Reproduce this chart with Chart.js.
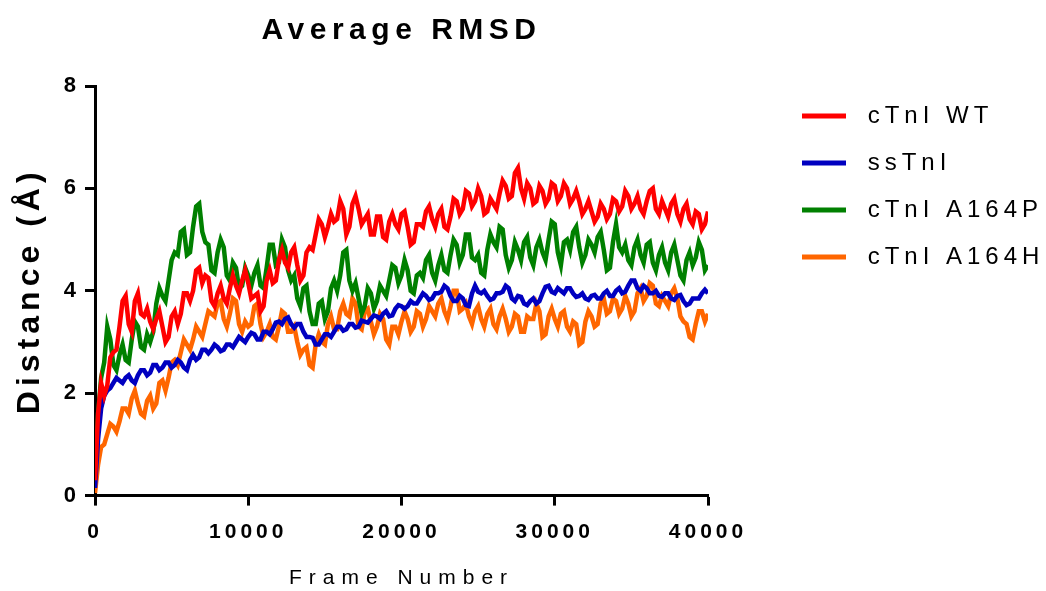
<!DOCTYPE html>
<html>
<head>
<meta charset="utf-8">
<script src="https://cdn.jsdelivr.net/npm/chart.js@4/dist/chart.umd.min.js"></script>
<style>
  html, body { margin: 0; padding: 0; background: #fff; }
  canvas { display: block; }
</style>
</head>
<body>
<canvas id="rmsdChart" width="1046" height="591"></canvas>
<script>
// --- data (frame number vs. average RMSD in Å) ---
const frames = [
    0, 200, 400, 600, 800, 1000, 1200, 1400, 1600, 1800,
    2000, 2200, 2400, 2600, 2800, 3000, 3200, 3400, 3600, 3800,
    4000, 4200, 4400, 4600, 4800, 5000, 5200, 5400, 5600, 5800,
    6000, 6200, 6400, 6600, 6800, 7000, 7200, 7400, 7600, 7800,
    8000, 8200, 8400, 8600, 8800, 9000, 9200, 9400, 9600, 9800,
    10000, 10200, 10400, 10600, 10800, 11000, 11200, 11400, 11600, 11800,
    12000, 12200, 12400, 12600, 12800, 13000, 13200, 13400, 13600, 13800,
    14000, 14200, 14400, 14600, 14800, 15000, 15200, 15400, 15600, 15800,
    16000, 16200, 16400, 16600, 16800, 17000, 17200, 17400, 17600, 17800,
    18000, 18200, 18400, 18600, 18800, 19000, 19200, 19400, 19600, 19800,
    20000, 20200, 20400, 20600, 20800, 21000, 21200, 21400, 21600, 21800,
    22000, 22200, 22400, 22600, 22800, 23000, 23200, 23400, 23600, 23800,
    24000, 24200, 24400, 24600, 24800, 25000, 25200, 25400, 25600, 25800,
    26000, 26200, 26400, 26600, 26800, 27000, 27200, 27400, 27600, 27800,
    28000, 28200, 28400, 28600, 28800, 29000, 29200, 29400, 29600, 29800,
    30000, 30200, 30400, 30600, 30800, 31000, 31200, 31400, 31600, 31800,
    32000, 32200, 32400, 32600, 32800, 33000, 33200, 33400, 33600, 33800,
    34000, 34200, 34400, 34600, 34800, 35000, 35200, 35400, 35600, 35800,
    36000, 36200, 36400, 36600, 36800, 37000, 37200, 37400, 37600, 37800,
    38000, 38200, 38400, 38600, 38800, 39000, 39200, 39400, 39600, 39800,
    40000
];

const seriesLabels = ['cTnI WT', 'ssTnI', 'cTnI A164P', 'cTnI A164H'];

const wtValues = [
    0.3, 1.6, 2.2, 1.95, 2.15, 2.7, 2.8, 2.85, 3.3, 3.8,
    3.9, 3.35, 3.2, 3.8, 3.95, 3.55, 3.5, 3.65, 3.4, 3.25,
    3.45, 3.6, 3.3, 3.0, 3.1, 3.5, 3.6, 3.35, 3.55, 3.95,
    3.95, 3.8, 4.0, 4.4, 4.45, 4.15, 4.3, 4.25, 3.8, 3.7,
    3.95, 4.1, 3.85, 3.75, 4.05, 4.3, 4.1, 3.95, 4.2, 4.4,
    4.15, 3.85, 3.9, 3.95, 3.6, 3.7, 4.2, 4.4, 4.15, 4.2,
    4.6, 4.8, 4.55, 4.45, 4.75, 4.85, 4.5, 4.2, 4.3, 4.75,
    4.85, 4.8, 5.1, 5.4, 5.3, 5.05, 5.25, 5.5, 5.35, 5.4,
    5.75, 5.6, 5.1, 5.25, 5.7, 5.85, 5.6, 5.3, 5.4, 5.5,
    5.1, 5.1, 5.45, 5.45, 5.05, 5.0, 5.35, 5.5, 5.3, 5.2,
    5.5, 5.55, 5.25, 4.9, 4.95, 5.3, 5.3, 5.25, 5.55, 5.65,
    5.4, 5.25, 5.5, 5.6, 5.25, 5.2, 5.45, 5.8, 5.75, 5.5,
    5.6, 5.95, 5.9, 5.65, 5.75, 6.0, 5.85, 5.5, 5.55, 5.8,
    5.7, 5.6, 5.9, 6.15, 6.05, 5.8, 5.85, 6.3, 6.4, 6.0,
    5.8, 6.1, 6.0, 5.7, 5.75, 6.05, 5.95, 5.7, 5.8, 6.1,
    6.05, 5.75, 5.85, 6.1, 6.0, 5.7, 5.8, 5.95, 5.75, 5.5,
    5.6, 5.75, 5.55, 5.35, 5.45, 5.7, 5.6, 5.4, 5.5, 5.8,
    5.75, 5.55, 5.65, 5.95, 5.85, 5.6, 5.7, 5.85, 5.6, 5.5,
    5.75, 5.95, 6.0, 5.6, 5.5, 5.75, 5.6, 5.45, 5.7, 5.8,
    5.5, 5.35, 5.6, 5.7, 5.4, 5.3, 5.55, 5.5, 5.2, 5.3,
    5.55
];

const ssValues = [
    0.15, 1.1, 1.7, 1.95, 2.05, 2.1, 2.2, 2.3, 2.25, 2.2,
    2.3, 2.35, 2.25, 2.2, 2.35, 2.45, 2.45, 2.35, 2.4, 2.55,
    2.55, 2.45, 2.5, 2.6, 2.6, 2.5, 2.55, 2.65, 2.6, 2.5,
    2.45, 2.65, 2.75, 2.65, 2.7, 2.85, 2.85, 2.78, 2.85, 2.95,
    2.9, 2.82, 2.85, 2.95, 2.95, 2.9, 3.0, 3.1, 3.05, 3.0,
    3.1, 3.18, 3.15, 3.05, 3.05, 3.2, 3.2, 3.15, 3.25, 3.38,
    3.4, 3.35, 3.45, 3.48, 3.35, 3.28, 3.35, 3.35, 3.2, 3.1,
    3.1, 3.08, 2.95, 2.95, 3.05, 3.15, 3.15, 3.1, 3.2, 3.3,
    3.3, 3.22, 3.25, 3.35, 3.35, 3.28, 3.3, 3.42, 3.4, 3.38,
    3.45, 3.52, 3.5, 3.45, 3.55, 3.6, 3.5, 3.52, 3.65, 3.72,
    3.7, 3.65, 3.7, 3.8, 3.75, 3.75, 3.85, 3.95, 3.9, 3.82,
    3.85, 3.95, 3.95, 3.98, 4.1, 4.05, 3.9, 3.8, 3.8, 3.9,
    3.85, 3.72, 3.7, 3.95, 4.1, 3.98, 3.95, 4.0, 3.9, 3.82,
    3.85, 3.95, 3.95, 3.98, 4.1, 4.05, 3.85, 3.8, 3.9, 3.88,
    3.75, 3.72, 3.8, 3.85, 3.75, 3.8, 3.95, 4.08, 4.1, 3.98,
    3.95, 4.05, 4.0, 3.95, 4.05, 4.05, 3.95, 3.88, 3.9, 3.95,
    3.85, 3.82, 3.9, 3.92, 3.85, 3.85, 3.95, 4.0, 3.9, 3.9,
    4.0, 4.05, 3.95, 3.98, 4.1, 4.2, 4.2, 4.05, 4.0, 4.1,
    4.05, 3.95, 3.95, 4.0, 3.9, 3.88, 3.95, 3.95, 3.85, 3.82,
    3.9, 3.92, 3.8, 3.72, 3.75, 3.85, 3.85, 3.85, 3.95, 4.02,
    3.95
];

const a164pValues = [
    0.5, 1.6, 2.3, 2.6, 3.3, 3.05, 2.55, 2.45, 2.75, 2.95,
    2.65, 2.6, 3.05, 3.4, 3.3, 2.9, 2.85, 3.15, 3.0, 3.2,
    3.75, 4.05, 3.9, 3.8, 4.2, 4.6, 4.75, 4.7, 5.15, 5.2,
    4.7, 4.75, 5.25, 5.65, 5.7, 5.15, 4.95, 4.9, 4.4, 4.35,
    4.75, 5.0, 4.85, 4.3, 4.2, 4.55, 4.45, 4.05, 4.1, 4.45,
    4.3, 4.1, 4.35, 4.5, 4.1, 4.05, 4.45, 4.9, 4.9, 4.5,
    4.55, 5.0, 4.85, 4.4, 4.2, 4.3, 3.85, 3.7, 4.05, 4.1,
    3.6, 3.35, 3.35, 3.75, 3.8, 3.45, 3.6, 4.05, 4.2, 4.0,
    4.3, 4.75, 4.8, 4.2, 4.0, 4.15, 3.85, 3.55, 3.7, 4.05,
    3.95, 3.65, 3.8, 4.1, 4.0, 3.9, 4.2, 4.5, 4.45, 4.15,
    4.3, 4.6, 4.4, 4.0, 3.95, 4.3, 4.35, 4.25, 4.6, 4.7,
    4.35, 4.2, 4.5, 4.7, 4.4, 4.35, 4.7, 5.0, 4.9, 4.55,
    4.7, 5.1, 5.1, 4.65, 4.6, 4.7, 4.35, 4.3, 4.8, 5.1,
    4.95, 4.85, 5.25, 5.2, 4.7, 4.45, 4.6, 4.95, 4.8, 4.6,
    4.95, 5.05, 4.65, 4.5, 4.85, 5.0, 4.75, 4.6, 5.0, 5.35,
    5.3, 4.75, 4.5, 4.95, 5.0, 4.8, 5.15, 5.25, 4.85, 4.55,
    4.7, 5.0, 4.9, 4.75, 5.05, 5.15, 4.8, 4.4, 4.45, 4.95,
    5.3, 4.85, 4.75, 4.9, 4.6, 4.5, 4.85, 5.0, 4.7, 4.55,
    4.9, 4.95, 4.55, 4.4, 4.7, 4.85, 4.55, 4.4, 4.75, 4.9,
    4.6, 4.3, 4.2, 4.6, 4.75, 4.5, 4.65, 4.95, 4.8, 4.4,
    4.5
];

const a164hValues = [
    0.05, 0.6, 0.95, 1.0, 1.2, 1.4, 1.35, 1.25, 1.45, 1.7,
    1.7, 1.6, 1.9, 2.05, 1.8, 1.6, 1.55, 1.85, 1.95, 1.7,
    1.8, 2.2, 2.25, 2.05, 2.3, 2.6, 2.65, 2.55, 2.8, 3.05,
    2.95, 2.85, 3.05, 3.3, 3.2, 3.1, 3.35, 3.6, 3.55, 3.5,
    3.75, 3.8, 3.45, 3.3, 3.55, 3.85, 3.8, 3.35, 3.2, 3.4,
    3.3, 3.35, 3.7, 3.75, 3.35, 3.1, 3.2, 3.35, 3.1, 3.05,
    3.3, 3.6, 3.55, 3.2, 3.2, 3.3, 3.0, 2.75, 2.85, 2.9,
    2.55, 2.5, 2.95, 3.15, 3.0, 2.95, 3.35, 3.5, 3.25, 3.25,
    3.6, 3.75, 3.55, 3.5, 3.85, 3.75, 3.3, 3.25, 3.6, 3.65,
    3.4, 3.15, 3.3, 3.55, 3.45, 3.05, 2.95, 3.3, 3.3, 3.15,
    3.4, 3.6, 3.45, 3.2, 3.3, 3.6, 3.55, 3.3, 3.45, 3.7,
    3.6, 3.5, 3.75, 3.85, 3.6, 3.45, 3.7, 4.0, 4.0, 3.6,
    3.65, 3.75, 3.5, 3.35, 3.6, 3.7, 3.45, 3.3, 3.55, 3.65,
    3.35, 3.25, 3.5, 3.65, 3.45, 3.2, 3.3, 3.55, 3.5, 3.2,
    3.2, 3.5, 3.45, 3.45, 3.75, 3.6, 3.1, 3.15, 3.5, 3.65,
    3.45, 3.3, 3.55, 3.6, 3.3, 3.2, 3.4, 3.35, 2.95, 3.0,
    3.4, 3.6, 3.5, 3.3, 3.35, 3.75, 3.85, 3.55, 3.6, 3.85,
    3.8, 3.55, 3.65, 3.9, 3.75, 3.5, 3.6, 3.95, 4.05, 3.8,
    3.9, 4.15, 4.1, 3.75, 3.7, 3.9, 3.8, 3.7, 3.95, 4.05,
    3.85, 3.5, 3.4, 3.35, 3.1, 3.05, 3.35, 3.6, 3.6, 3.4,
    3.55
];

const seriesColors = ['#ff0000', '#0000c0', '#008000', '#ff6600'];
const xTicks = [0, 10000, 20000, 30000, 40000];
const yTicks = [0, 2, 4, 6, 8];

// --- layout helpers ---
const FONT = "'Liberation Sans', Arial, sans-serif";
const plotLeft = 95;
const plotRight = 708;

const toPoints = values => values.map((v, i) => ({ x: frames[i], y: v }));

// letter spacing per element (Prism-style spaced text)
function spaced(ctx, obj, name, px) {
    if (!obj || obj['_spaced_' + name]) return;
    const orig = obj[name];
    obj[name] = function (...args) {
        ctx.save();
        ctx.letterSpacing = px + 'px';
        orig.apply(this, args);
        ctx.restore();
    };
    obj['_spaced_' + name] = true;
}

const layoutTweaks = {
    id: 'layoutTweaks',
    beforeLayout(chart) {
        const lg = chart.legend;
        if (lg && !lg._fixedWidth) {
            const fit = lg.fit;
            lg.fit = function () {
                fit.call(this);
                this.width = chart.width - plotRight;
            };
            lg._fixedWidth = true;
        }
    },
    afterLayout(chart) {
        const ctx = chart.ctx;
        spaced(ctx, chart.titleBlock, 'draw', 5.5);
        spaced(ctx, chart.legend, 'draw', 5);
        spaced(ctx, chart.scales.x, 'drawLabels', 4);
        spaced(ctx, chart.scales.x, 'drawTitle', 7);
        spaced(ctx, chart.scales.y, 'drawLabels', 4);
        spaced(ctx, chart.scales.y, 'drawTitle', 5);

        // legend block sits away from the plot, top right
        const lg = chart.legend;
        const w = lg.width, h = lg.height;
        lg.left = 781;
        lg.right = lg.left + w;
        lg.top = 81;
        lg.bottom = lg.top + h;
    }
};

const datasets = [wtValues, ssValues, a164pValues, a164hValues].map((vals, i) => ({
    label: seriesLabels[i],
    data: toPoints(vals),
    borderColor: seriesColors[i],
    backgroundColor: seriesColors[i],
    borderWidth: 4.5,
    borderJoinStyle: 'miter',
    pointRadius: 0,
    tension: 0,
    fill: false
}));

new Chart(document.getElementById('rmsdChart'), {
    type: 'line',
    data: { datasets },
    options: {
        responsive: false,
        animation: false,
        layout: { padding: 0 },
        plugins: {
            title: {
                display: true,
                text: 'Average RMSD',
                color: '#000',
                fullSize: false,
                font: { family: FONT, size: 30, weight: 'bold' },
                padding: { top: 13, bottom: 37 }
            },
            legend: {
                position: 'right',
                align: 'start',
                labels: {
                    color: '#000',
                    font: { family: FONT, size: 24 },
                    boxWidth: 40,
                    boxHeight: 1,
                    padding: 23,
                    generateLabels(chart) {
                        const items = Chart.defaults.plugins.legend.labels.generateLabels(chart);
                        items.forEach(it => { it.text = ' ' + it.text; it.lineWidth = 4; });
                        return items;
                    }
                }
            },
            tooltip: { enabled: false }
        },
        scales: {
            x: {
                type: 'linear',
                min: 0,
                max: 40000,
                afterBuildTicks(scale) { scale.ticks = xTicks.map(v => ({ value: v })); },
                ticks: {
                    color: '#000',
                    font: { family: FONT, size: 21, weight: 'bold' },
                    padding: 14,
                    maxRotation: 0,
                    autoSkip: false,
                    callback: v => String(v)
                },
                grid: {
                    drawOnChartArea: false,
                    drawTicks: true,
                    tickLength: 10,
                    tickWidth: 3,
                    tickColor: '#000'
                },
                border: { display: true, color: '#000', width: 3 },
                title: {
                    display: true,
                    text: 'Frame Number',
                    color: '#000',
                    font: { family: FONT, size: 21 },
                    padding: { top: 7, bottom: 0 }
                }
            },
            y: {
                min: 0,
                max: 8,
                afterBuildTicks(scale) { scale.ticks = yTicks.map(v => ({ value: v })); },
                afterFit(scale) { scale.width = plotLeft; },
                ticks: {
                    color: '#000',
                    font: { family: FONT, size: 22, weight: 'bold' },
                    padding: 5,
                    callback: v => String(v)
                },
                grid: {
                    drawOnChartArea: false,
                    drawTicks: true,
                    tickLength: 10,
                    tickWidth: 3,
                    tickColor: '#000'
                },
                border: { display: true, color: '#000', width: 3 },
                title: {
                    display: true,
                    text: 'Distance (Å)',
                    color: '#000',
                    font: { family: FONT, size: 32, weight: 'bold' },
                    padding: { top: 11, bottom: 0 }
                }
            }
        }
    },
    plugins: [layoutTweaks]
});
</script>
</body>
</html>
